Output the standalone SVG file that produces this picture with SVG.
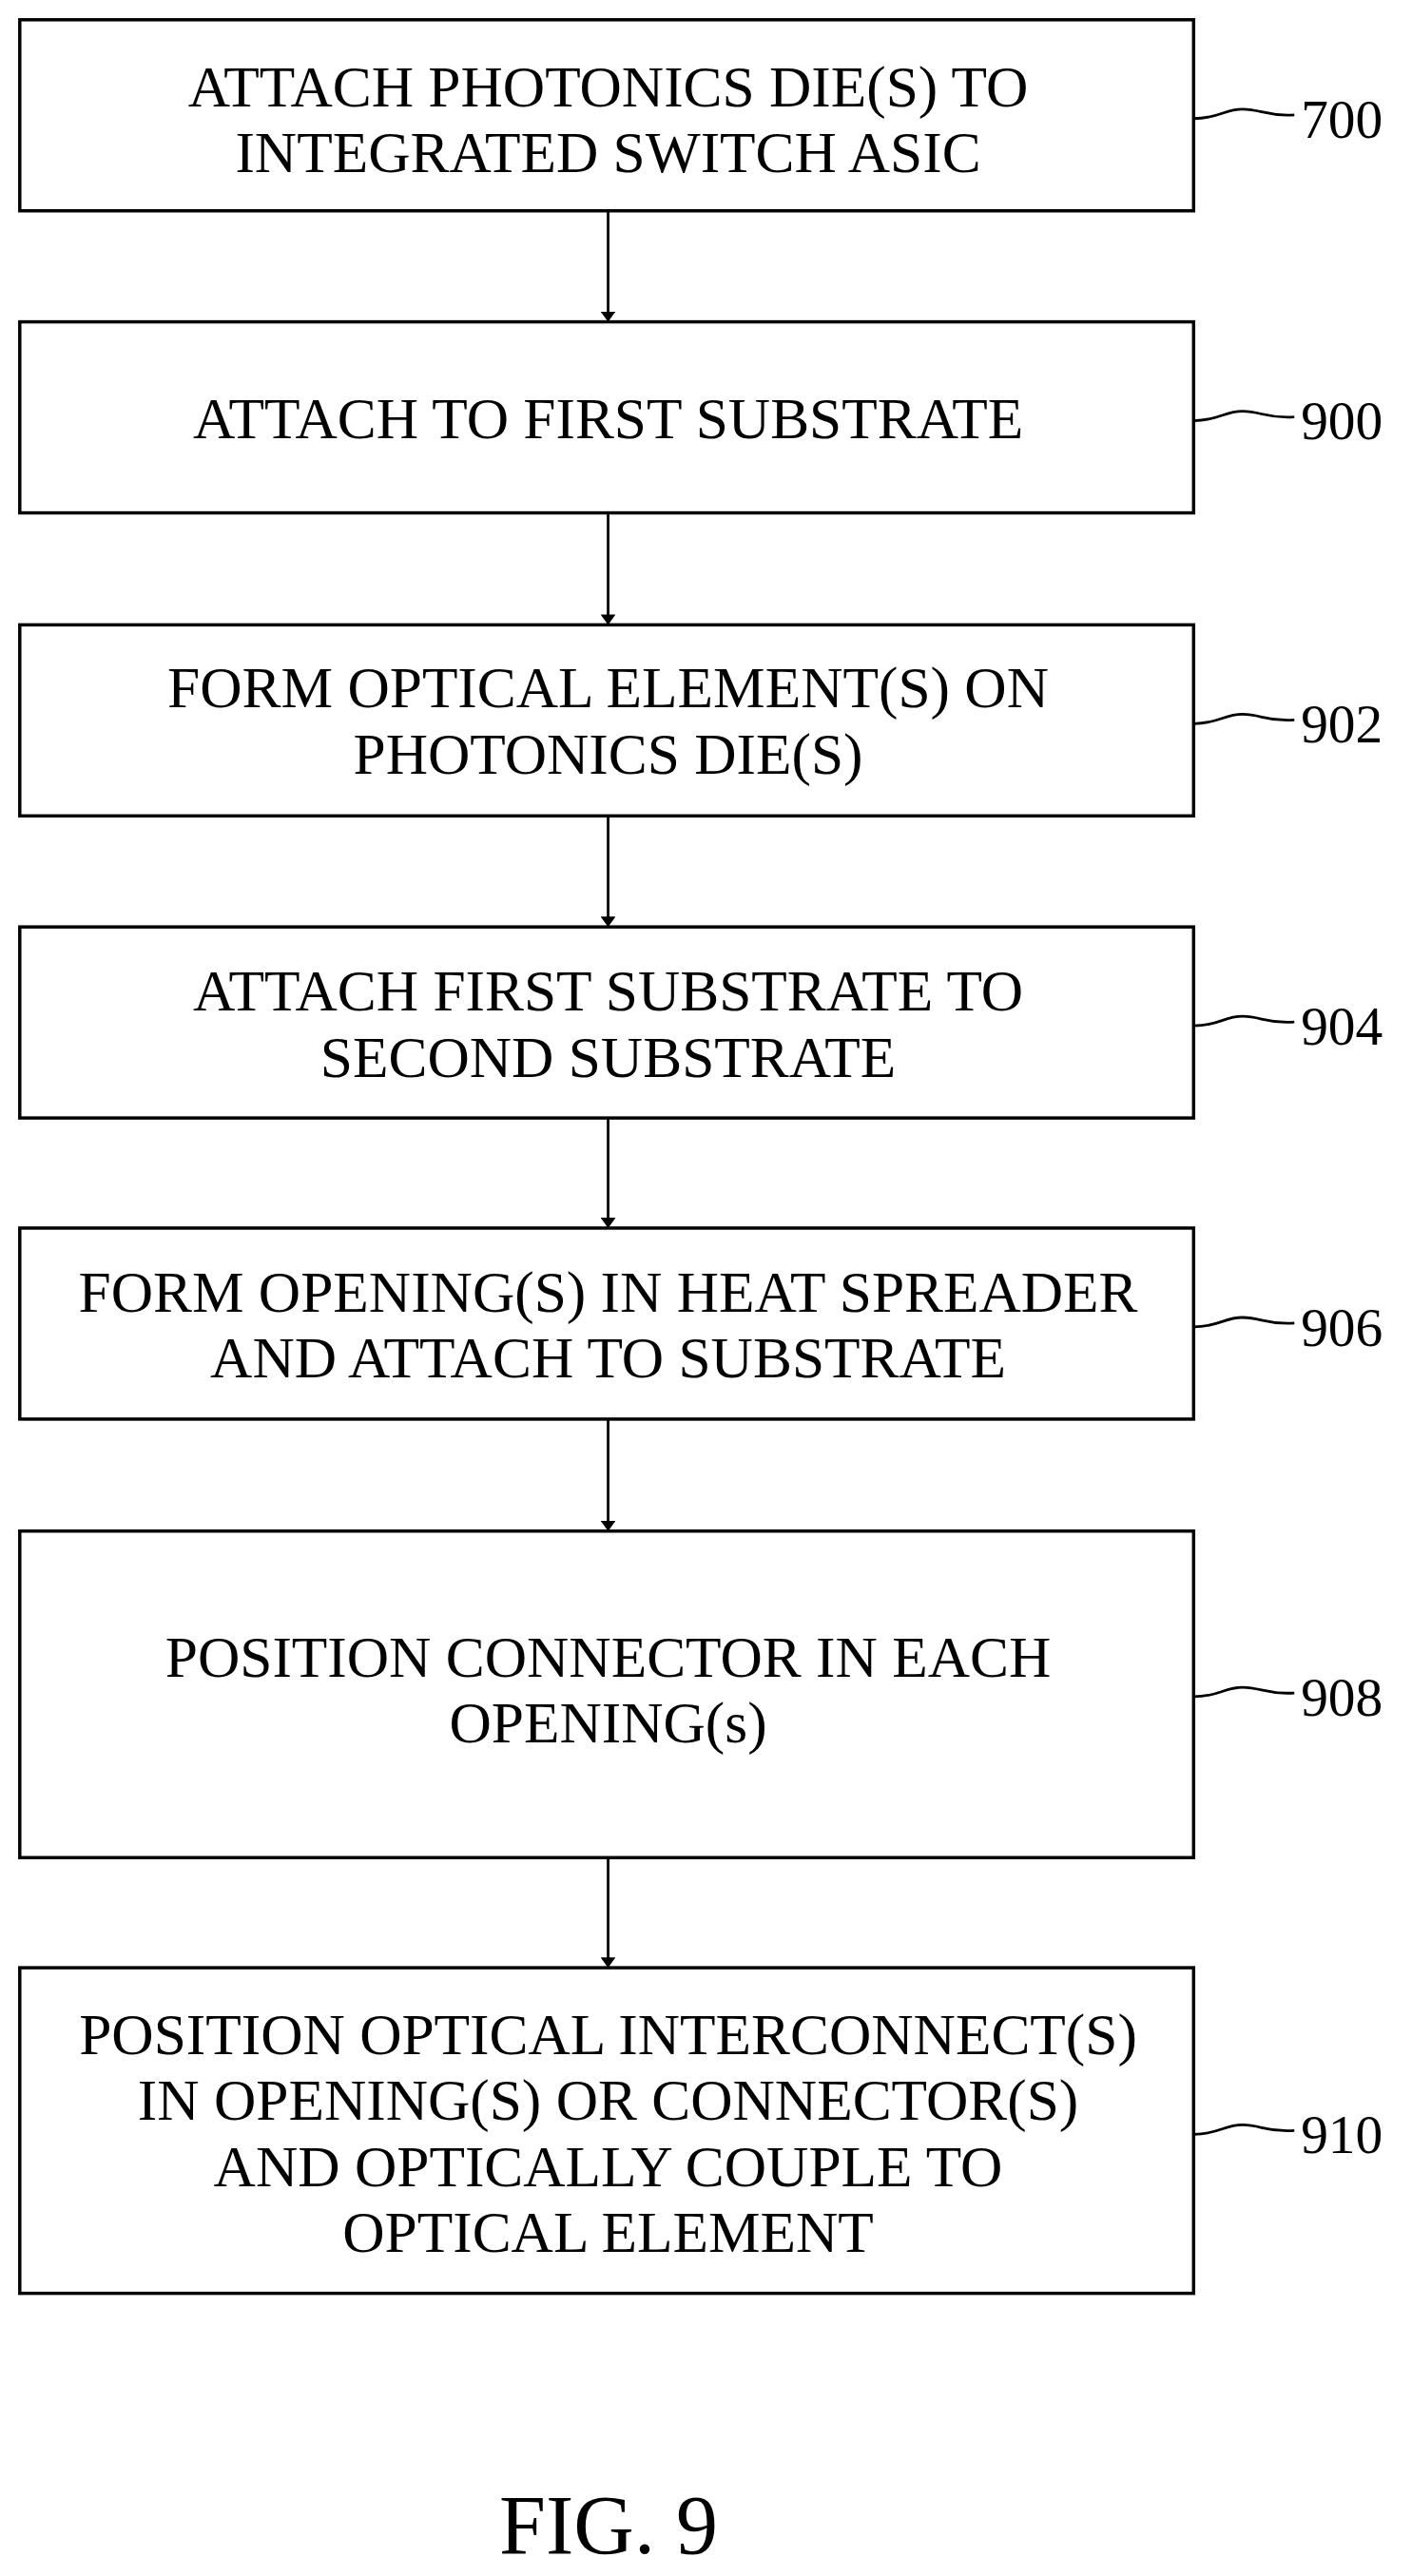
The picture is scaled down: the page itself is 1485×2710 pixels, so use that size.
<svg xmlns="http://www.w3.org/2000/svg" width="1485" height="2710" viewBox="0 0 1485 2710">
<style>
.b{fill:#fff;stroke:#000;stroke-width:3.5}
.t{font-family:"Liberation Serif",serif;font-size:62px;text-anchor:middle;fill:#000}
.l{font-family:"Liberation Serif",serif;font-size:58px;fill:#000}
.c{stroke:#000;stroke-width:2.8;fill:none}
</style>
<defs><marker id="a" markerWidth="11" markerHeight="16" refX="11" refY="8" orient="auto" markerUnits="userSpaceOnUse"><path d="M0,0 L11,8 L0,16 Z" fill="#000"/></marker></defs>
<rect width="1485" height="2710" fill="#fff"/>
<g transform="scale(0.99)">
<g id="n700"><rect class="b" x="21" y="21" width="1247" height="203"/><text class="t" x="646" y="113">ATTACH PHOTONICS DIE(S) TO</text><text class="t" x="646" y="183">INTEGRATED SWITCH ASIC</text></g>
<g id="n900"><rect class="b" x="21" y="342" width="1247" height="203"/><text class="t" x="646" y="466">ATTACH TO FIRST SUBSTRATE</text></g>
<g id="n902"><rect class="b" x="21" y="664" width="1247" height="203"/><text class="t" x="646" y="752">FORM OPTICAL ELEMENT(S) ON</text><text class="t" x="646" y="822">PHOTONICS DIE(S)</text></g>
<g id="n904"><rect class="b" x="21" y="985" width="1247" height="203"/><text class="t" x="646" y="1074">ATTACH FIRST SUBSTRATE TO</text><text class="t" x="646" y="1144">SECOND SUBSTRATE</text></g>
<g id="n906"><rect class="b" x="21" y="1305" width="1247" height="203"/><text class="t" x="646" y="1394">FORM OPENING(S) IN HEAT SPREADER</text><text class="t" x="646" y="1464">AND ATTACH TO SUBSTRATE</text></g>
<g id="n908"><rect class="b" x="21" y="1627" width="1247" height="347"/><text class="t" x="646" y="1782">POSITION CONNECTOR IN EACH</text><text class="t" x="646" y="1852">OPENING(s)</text></g>
<g id="n910"><rect class="b" x="21" y="2091" width="1247" height="346"/><text class="t" x="646" y="2183">POSITION OPTICAL INTERCONNECT(S)</text><text class="t" x="646" y="2253">IN OPENING(S) OR CONNECTOR(S)</text><text class="t" x="646" y="2323">AND OPTICALLY COUPLE TO</text><text class="t" x="646" y="2393">OPTICAL ELEMENT</text></g>
<g id="labels">
<path class="c" d="M1268,126 C1295,126 1300,116 1320,116 C1340,116 1345,124 1375,122"/><text class="l" x="1382" y="146">700</text>
<path class="c" d="M1268,447 C1295,447 1300,437 1320,437 C1340,437 1345,445 1375,443"/><text class="l" x="1382" y="467">900</text>
<path class="c" d="M1268,769 C1295,769 1300,759 1320,759 C1340,759 1345,767 1375,765"/><text class="l" x="1382" y="789">902</text>
<path class="c" d="M1268,1090 C1295,1090 1300,1080 1320,1080 C1340,1080 1345,1088 1375,1086"/><text class="l" x="1382" y="1110">904</text>
<path class="c" d="M1268,1410 C1295,1410 1300,1400 1320,1400 C1340,1400 1345,1408 1375,1406"/><text class="l" x="1382" y="1430">906</text>
<path class="c" d="M1268,1803 C1295,1803 1300,1793 1320,1793 C1340,1793 1345,1801 1375,1799"/><text class="l" x="1382" y="1823">908</text>
<path class="c" d="M1268,2268 C1295,2268 1300,2258 1320,2258 C1340,2258 1345,2266 1375,2264"/><text class="l" x="1382" y="2288">910</text>
</g>
<g id="connectors">
<path class="c" marker-end="url(#a)" d="M646,224 V342"/>
<path class="c" marker-end="url(#a)" d="M646,545 V664"/>
<path class="c" marker-end="url(#a)" d="M646,867 V985"/>
<path class="c" marker-end="url(#a)" d="M646,1188 V1305"/>
<path class="c" marker-end="url(#a)" d="M646,1508 V1627"/>
<path class="c" marker-end="url(#a)" d="M646,1974 V2091"/>
</g>
</g>
<text x="640" y="2686" style="font-family:'Liberation Serif',serif;font-size:88px;text-anchor:middle">FIG. 9</text>
</svg>
